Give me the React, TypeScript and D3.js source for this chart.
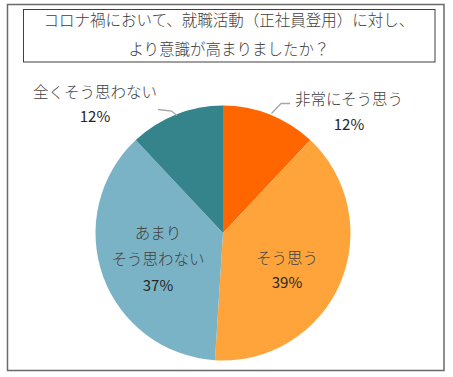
import React from "react";
import * as d3 from "d3";

const categories = ["非常にそう思う", "そう思う", "あまりそう思わない", "全くそう思わない"];
const values = [12, 39, 37, 12];
const colors = ["#FF6600", "#FFA43A", "#7BB3C6", "#35838B"];
const titleLines = ["コロナ禍において、就職活動（正社員登用）に対し、", "より意識が高まりましたか？"];

const W = 453;
const H = 377;
const cx = 223;
const cy = 233;
const R = 127.5;
const FONT = "'Noto Sans CJK JP', 'Noto Sans', sans-serif";

export default function App() {
  const pie = d3.pie<number>().sort(null).value((d) => d)(values);
  const arc = d3.arc<d3.PieArcDatum<number>>().innerRadius(0).outerRadius(R);
  const textColor = "#404040";

  const labels: { lines: string[]; x: number; y: number[] }[] = [
    { lines: [categories[0], `${values[0]}%`], x: 349, y: [98, 123] },
    { lines: ["そう思う", `${values[1]}%`], x: 287, y: [257, 281] },
    { lines: ["あまり", "そう思わない", `${values[2]}%`], x: 158, y: [232, 258, 284] },
    { lines: [categories[3], `${values[3]}%`], x: 95, y: [91, 115] },
  ];

  return (
    <svg width={W} height={H} style={{ position: "absolute", left: 0, top: 0 }}>
      <rect x={0} y={0} width={W} height={H} fill="#fff" />
      <rect x={7.5} y={4.5} width={436.5} height={366} fill="none" stroke="#6a6a6a" strokeWidth={1.5} />
      <rect x={23.5} y={9.5} width={411.5} height={52.5} fill="none" stroke="#404040" strokeWidth={1} />
      {titleLines.map((t, i) => (
        <text
          key={i}
          x={229}
          y={19 + i * 29}
          textAnchor="middle"
          dominantBaseline="central"
          fontFamily={FONT}
          fontSize={15.5}
          fontWeight={300}
          fill={textColor}
        >
          {t}
        </text>
      ))}
      <g transform={`translate(${cx},${cy})`}>
        {pie.map((p, i) => (
          <path key={i} d={arc(p) || ""} fill={colors[i]} />
        ))}
      </g>
      <polyline points="271.5,113.5 281,103.5 290,103.5" fill="none" stroke="#a6a6a6" strokeWidth={1.3} />
      <polyline points="158,109.5 171.5,111 177,115.5" fill="none" stroke="#a6a6a6" strokeWidth={1.3} />
      {labels.map((l, i) =>
        l.lines.map((t, j) => (
          <text
            key={`${i}-${j}`}
            x={l.x}
            y={l.y[j]}
            textAnchor="middle"
            dominantBaseline="central"
            fontFamily={FONT}
            fontSize={t.includes("%") ? 15 : 15.5}
            fontWeight={t.includes("%") ? 400 : 300}
            fill={t.includes("%") ? "#262626" : textColor}
          >
            {t}
          </text>
        ))
      )}
    </svg>
  );
}
